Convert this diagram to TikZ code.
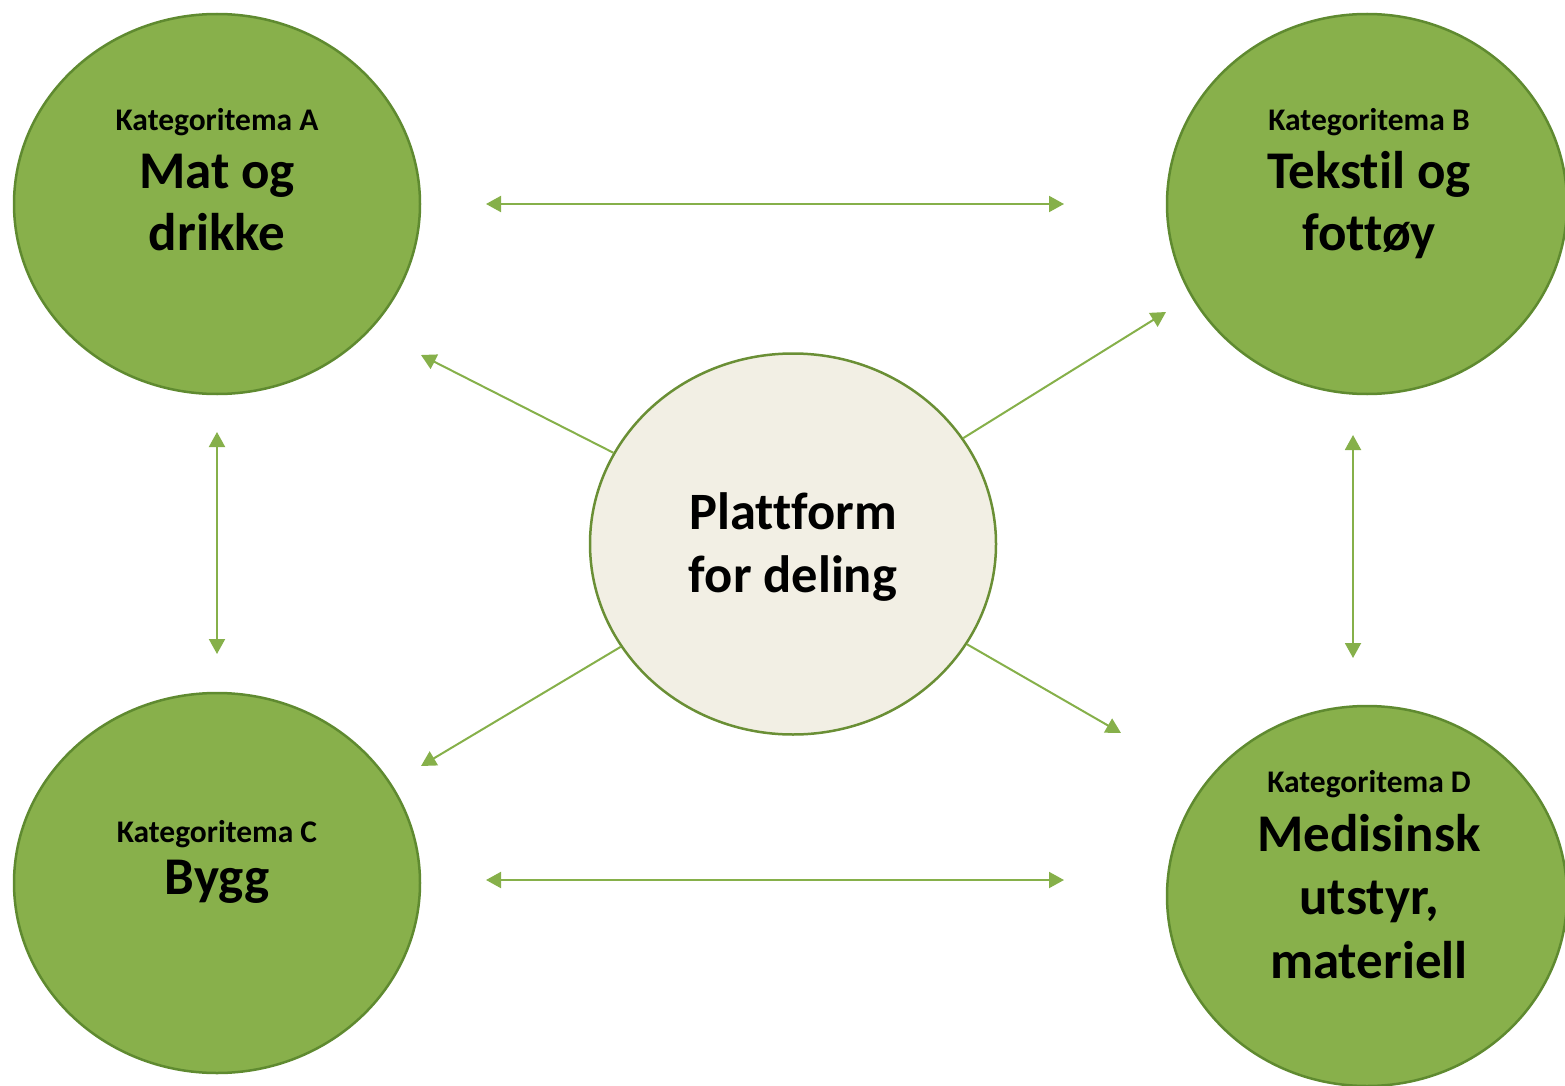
\documentclass[tikz,border=0pt]{standalone}
\usepackage{fontspec}
\setmainfont{Carlito}[Ligatures={NoCommon}]
\usetikzlibrary{arrows.meta,shapes.geometric}
\definecolor{catfill}{HTML}{88B04B}
\definecolor{catdraw}{HTML}{5F8A30}
\definecolor{arrowgreen}{HTML}{86B04A}
\definecolor{hubfill}{HTML}{F2EFE4}
\definecolor{hubdraw}{HTML}{6A8F35}
\tikzset{
  catcircle/.style={ellipse, fill=catfill, draw=catdraw, line width=2.5pt, minimum width=#1, minimum height=380pt, inner sep=0pt},
  hubcircle/.style={ellipse, fill=hubfill, draw=hubdraw, line width=2.5pt, minimum width=406pt, minimum height=381pt, inner sep=0pt},
  small/.style={anchor=base, font=\fontsize{31.5}{36}\selectfont\bfseries, inner sep=0pt},
  big/.style={anchor=base, font=\fontsize{53}{62}\selectfont\bfseries, inner sep=0pt},
  hubtext/.style={anchor=base, font=\fontsize{52.5}{62}\selectfont\bfseries, inner sep=0pt},
  link/.style={draw=arrowgreen, line width=2pt, {Triangle[length=15pt,width=16pt]}-{Triangle[length=15pt,width=16pt]}},
  spoke/.style={draw=arrowgreen, line width=2pt, -{Triangle[length=15pt,width=16pt]}}
}
\begin{document}
\begin{tikzpicture}[x=1pt,y=-1pt]
\useasboundingbox (0,0) rectangle (1565,1086);
% circles
\node[catcircle=406pt] (A) at (217,204) {};
\node[catcircle=400pt] (B) at (1367,204) {};
\node[catcircle=406pt] (C) at (217,883) {};
\node[catcircle=400pt] (D) at (1367,896) {};
\node[hubcircle] (P) at (793,544) {};
% texts
\node[small] (a1) at (217,131) {Kategoritema A};
\node[big] (a2) at (217,189) {Mat og};
\node[big] (a3) at (217,250) {drikke};
\node[small] (b1) at (1369,131) {Kategoritema B};
\node[big] (b2) at (1369,189) {Tekstil og};
\node[big] (b3) at (1369,250) {fottøy};
\node[small] (c1) at (217,842) {Kategoritema C};
\node[big] (c2) at (217,894) {Bygg};
\node[small] (d1) at (1369,792) {Kategoritema D};
\node[big] (d2) at (1369,851) {Medisinsk};
\node[big] (d3) at (1369,914) {utstyr,};
\node[big] (d4) at (1369,978) {materiell};
\node[hubtext] (p1) at (793,529) {Plattform};
\node[hubtext] (p2) at (793,592) {for deling};
% connector ends
\coordinate (abL) at (486,204);
\coordinate (abR) at (1064,204);
\coordinate (cdL) at (486,880);
\coordinate (cdR) at (1064,880);
\coordinate (acT) at (217,432);
\coordinate (acB) at (217,654);
\coordinate (bdT) at (1353,435);
\coordinate (bdB) at (1353,658);
\coordinate (tA) at (421,355);
\coordinate (tB) at (1166,312);
\coordinate (tC) at (421,766);
\coordinate (tD) at (1121,733);
% connectors
\draw[link] (abL) -- (abR);
\draw[link] (cdL) -- (cdR);
\draw[link] (acT) -- (acB);
\draw[link] (bdT) -- (bdB);
\draw[spoke] (P) -- (tA);
\draw[spoke] (P) -- (tB);
\draw[spoke] (P) -- (tC);
\draw[spoke] (P) -- (tD);
\end{tikzpicture}
\end{document}
